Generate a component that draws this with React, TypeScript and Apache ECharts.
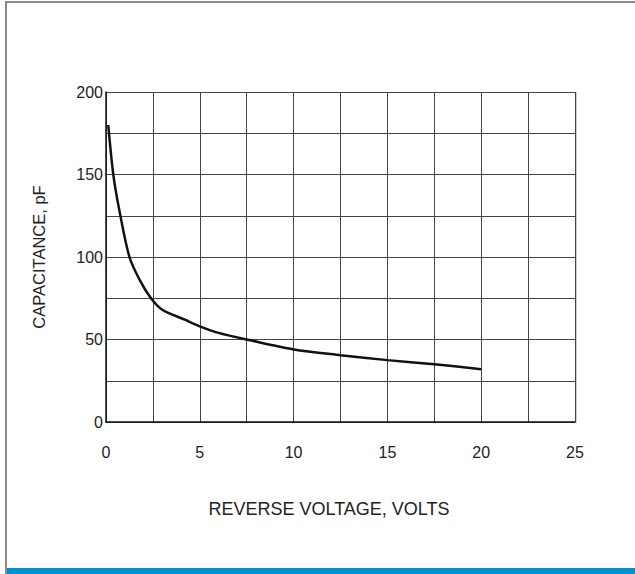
import React, { useEffect, useRef } from "react";
import * as echarts from "echarts";

const voltage = [0.12, 0.4, 0.75, 1.25, 1.8, 2.4, 3, 4.2, 5, 6, 7.5, 10, 12.5, 15, 17.5, 20];
const capacitance = [180, 149, 126, 100, 86, 75, 68, 62, 58, 54, 50, 44, 40.5, 37.5, 35, 32];
const xTickLabels = [0, 5, 10, 15, 20, 25];
const yTickLabels = [0, 50, 100, 150, 200];

export default function App() {
  const ref = useRef<HTMLDivElement>(null);
  useEffect(() => {
    if (!ref.current) return;
    const chart = echarts.init(ref.current, null, { renderer: "svg" });
    const font = "Liberation Sans, Arial, sans-serif";
    chart.setOption({
      animation: false,
      backgroundColor: "#ffffff",
      grid: { left: 106, top: 92, width: 469, height: 330, containLabel: false },
      xAxis: {
        type: "value",
        min: 0,
        max: 25,
        interval: 2.5,
        name: "REVERSE VOLTAGE, VOLTS",
        nameLocation: "middle",
        nameGap: 78,
        nameTextStyle: { fontFamily: font, fontSize: 18, color: "#222", padding: [0, 23, 0, 0] },
        axisLine: { show: true, lineStyle: { color: "#111", width: 1.5 } },
        axisTick: { show: false },
        axisLabel: {
          margin: 22,
          fontFamily: font,
          fontSize: 16,
          color: "#222",
          formatter: (v: number) => (xTickLabels.includes(v) ? String(v) : ""),
        },
        splitLine: { show: true, lineStyle: { color: "#444", width: 1 } },
      },
      yAxis: {
        type: "value",
        min: 0,
        max: 200,
        interval: 25,
        name: "CAPACITANCE, pF",
        nameLocation: "middle",
        nameGap: 59,
        nameTextStyle: { fontFamily: font, fontSize: 16.5, color: "#222" },
        axisLine: { show: true, lineStyle: { color: "#111", width: 1.5 } },
        axisTick: { show: false },
        axisLabel: {
          margin: 3,
          fontFamily: font,
          fontSize: 16,
          color: "#222",
          formatter: (v: number) => (yTickLabels.includes(v) ? String(v) : ""),
        },
        splitLine: { show: true, lineStyle: { color: "#444", width: 1 } },
      },
      series: [
        {
          type: "line",
          data: voltage.map((v, i) => [v, capacitance[i]]),
          smooth: 0.3,
          showSymbol: false,
          lineStyle: { color: "#111", width: 2.5 },
        },
      ],
      graphic: [
        { type: "rect", shape: { x: 5, y: 1, width: 2, height: 573 }, style: { fill: "#8a8a8a" }, silent: true },
        { type: "rect", shape: { x: 5, y: 1, width: 630, height: 2 }, style: { fill: "#8a8a8a" }, silent: true },
        { type: "rect", shape: { x: 7, y: 568, width: 628, height: 6 }, style: { fill: "#0090d6" }, silent: true },
        { type: "rect", shape: { x: 575, y: 92, width: 2, height: 331 }, style: { fill: "#d0d0d0" }, silent: true, z: -1 },
      ],
    });
    return () => chart.dispose();
  }, []);
  return (
    <div
      ref={ref}
      style={{ position: "fixed", left: 0, top: 0, width: 635, height: 574 }}
    />
  );
}
